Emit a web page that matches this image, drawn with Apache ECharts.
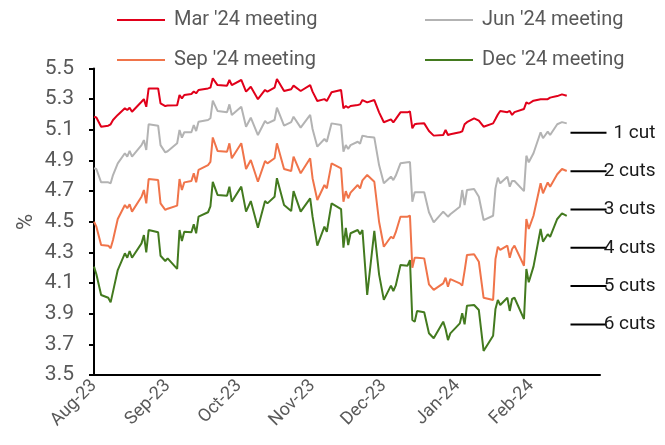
<!DOCTYPE html>
<html>
<head>
<meta charset="utf-8">
<script src="https://cdn.jsdelivr.net/npm/echarts@6/dist/echarts.min.js"></script>
<style>
  html, body { margin: 0; padding: 0; background: #fff; }
  #chartArea { width: 665px; height: 445px; }
</style>
</head>
<body>
<div id="chartArea"></div>
<script>
var dates = [
    '2023-08-01','2023-08-02','2023-08-04','2023-08-07','2023-08-08','2023-08-09','2023-08-11','2023-08-14','2023-08-15','2023-08-16',
    '2023-08-17','2023-08-21','2023-08-22','2023-08-23','2023-08-24','2023-08-28','2023-08-29','2023-08-31','2023-09-01','2023-09-05',
    '2023-09-06','2023-09-07','2023-09-08','2023-09-11','2023-09-12','2023-09-13','2023-09-14','2023-09-18','2023-09-19','2023-09-20',
    '2023-09-22','2023-09-26','2023-09-27','2023-09-28','2023-10-02','2023-10-04','2023-10-06','2023-10-09','2023-10-12','2023-10-13',
    '2023-10-16','2023-10-17','2023-10-20','2023-10-23','2023-10-24','2023-10-27','2023-10-31','2023-11-01','2023-11-03','2023-11-06',
    '2023-11-07','2023-11-09','2023-11-13','2023-11-14','2023-11-15','2023-11-16','2023-11-17','2023-11-20','2023-11-21','2023-11-22',
    '2023-11-24','2023-11-27','2023-11-29','2023-12-01','2023-12-04','2023-12-05','2023-12-06','2023-12-08','2023-12-11','2023-12-12',
    '2023-12-13','2023-12-14','2023-12-15','2023-12-18','2023-12-20','2023-12-22','2023-12-26','2023-12-27','2023-12-28','2023-12-29',
    '2024-01-02','2024-01-03','2024-01-04','2024-01-05','2024-01-08','2024-01-10','2024-01-12','2024-01-16','2024-01-17','2024-01-18',
    '2024-01-19','2024-01-22','2024-01-23','2024-01-24','2024-01-25','2024-01-29','2024-01-30','2024-01-31','2024-02-02','2024-02-05',
    '2024-02-06','2024-02-08','2024-02-09','2024-02-12','2024-02-14','2024-02-16'
];

var mar24 = [
    5.185,5.18,5.12,5.127,5.136,5.164,5.197,5.24,5.229,5.244,
    5.218,5.283,5.30,5.25,5.37,5.37,5.273,5.255,5.258,5.26,
    5.327,5.305,5.327,5.334,5.35,5.338,5.36,5.37,5.375,5.436,
    5.392,5.388,5.425,5.392,5.425,5.349,5.381,5.30,5.36,5.349,
    5.375,5.431,5.353,5.365,5.388,5.353,5.392,5.349,5.288,5.30,
    5.288,5.345,5.36,5.24,5.255,5.244,5.255,5.262,5.266,5.294,
    5.279,5.294,5.214,5.149,5.168,5.149,5.17,5.214,5.214,5.22,
    5.11,5.136,5.14,5.142,5.092,5.062,5.066,5.099,5.066,5.071,
    5.084,5.09,5.136,5.15,5.175,5.16,5.12,5.142,5.17,5.20,
    5.223,5.215,5.223,5.197,5.215,5.236,5.279,5.27,5.29,5.30,
    5.30,5.30,5.31,5.32,5.331,5.322
];
var jun24 = [
    4.849,4.844,4.757,4.757,4.751,4.805,4.881,4.947,4.925,4.962,
    4.925,5.0,5.033,4.968,5.136,5.127,5.0,4.953,4.96,5.012,
    5.099,5.049,5.084,5.084,5.131,5.092,5.153,5.164,5.175,5.29,
    5.223,5.214,5.266,5.197,5.25,5.12,5.179,5.066,5.157,5.142,
    5.164,5.244,5.127,5.15,5.185,5.114,5.197,5.105,4.99,5.04,
    5.022,5.142,5.131,4.957,5.0,4.975,5.0,5.022,5.01,5.062,
    5.055,5.049,4.87,4.751,4.794,4.772,4.80,4.881,4.888,4.89,
    4.631,4.692,4.692,4.692,4.562,4.496,4.566,4.55,4.533,4.549,
    4.598,4.707,4.609,4.707,4.714,4.663,4.511,4.539,4.718,4.788,
    4.751,4.794,4.729,4.766,4.766,4.70,4.931,4.888,4.947,5.084,
    5.045,5.088,5.066,5.136,5.15,5.142
];
var sep24 = [
    4.50,4.468,4.348,4.344,4.327,4.381,4.518,4.609,4.588,4.614,
    4.566,4.663,4.707,4.62,4.779,4.772,4.62,4.577,4.585,4.605,
    4.779,4.707,4.757,4.766,4.816,4.757,4.838,4.870,4.89,5.05,
    4.962,4.957,5.012,4.914,5.012,4.844,4.903,4.761,4.896,4.881,
    4.914,5.012,4.844,4.831,4.925,4.816,4.914,4.784,4.642,4.74,
    4.718,4.881,4.849,4.631,4.70,4.653,4.69,4.74,4.718,4.77,
    4.805,4.761,4.50,4.337,4.402,4.392,4.43,4.533,4.533,4.54,
    4.20,4.265,4.265,4.261,4.092,4.055,4.098,4.135,4.076,4.126,
    4.098,4.083,4.18,4.283,4.288,4.239,4.004,3.99,4.257,4.337,
    4.316,4.344,4.265,4.322,4.344,4.213,4.518,4.453,4.539,4.751,
    4.686,4.757,4.729,4.81,4.844,4.831
];
var dec24 = [
    4.207,4.157,4.022,4.004,3.974,4.044,4.185,4.294,4.265,4.309,
    4.265,4.359,4.413,4.30,4.446,4.431,4.278,4.244,4.261,4.192,
    4.446,4.374,4.435,4.431,4.483,4.425,4.533,4.562,4.60,4.76,
    4.675,4.670,4.729,4.631,4.729,4.566,4.635,4.461,4.635,4.62,
    4.663,4.784,4.609,4.57,4.70,4.566,4.653,4.533,4.344,4.468,
    4.435,4.62,4.583,4.331,4.46,4.348,4.425,4.446,4.418,4.446,
    4.022,4.44,4.157,3.99,4.083,4.048,4.083,4.218,4.213,4.25,
    3.859,3.848,3.918,3.909,3.772,3.74,3.848,3.80,3.728,3.772,
    3.837,3.903,3.831,3.952,3.957,3.924,3.657,3.756,3.931,3.99,
    3.957,4.004,3.918,3.996,4.004,3.865,4.192,4.105,4.207,4.453,
    4.37,4.418,4.402,4.518,4.555,4.539
];

var seriesNames = ["Mar '24 meeting", "Jun '24 meeting", "Sep '24 meeting", "Dec '24 meeting"];
var seriesColors = ['#e1001a', '#b3b3b3', '#f0744a', '#437a1f'];
var seriesValues = [mar24, jun24, sep24, dec24];

var cutLevels = [5.08, 4.83, 4.58, 4.33, 4.08, 3.83];
var cutLabels = ['1 cut', '2 cuts', '3 cuts', '4 cuts', '5 cuts', '6 cuts'];
var cutStart = '2024-02-18';

var axisStart = '2023-08-01';
var axisEnd = '2024-03-01';
var monthNames = ['Jan','Feb','Mar','Apr','May','Jun','Jul','Aug','Sep','Oct','Nov','Dec'];
var FONT = 'Roboto';

var myChart = echarts.init(document.getElementById('chartArea'));

function pairs(vals) {
    return vals.map(function(v, i) { return [dates[i], v]; });
}

var legendPos = [[117, 10], [425, 10], [117, 50], [425, 50]];
var endTime = echarts.time.parse(axisEnd).getTime();

var option = {
    animation: false,
    backgroundColor: '#fff',
    legend: seriesNames.map(function(name, i) {
        return {
            data: [name],
            left: legendPos[i][0],
            top: legendPos[i][1],
            padding: 0,
            icon: 'rect',
            itemWidth: 48,
            itemHeight: 2,
            textStyle: { color: '#595959', fontSize: 20, fontFamily: FONT, padding: [0, 0, 0, 4] }
        };
    }),
    grid: { left: 94, right: 65, top: 68.5, bottom: 70 },
    xAxis: {
        type: 'time',
        min: axisStart,
        max: axisEnd,
        minInterval: 28 * 86400000,
        maxInterval: 31 * 86400000,
        splitNumber: 7,
        axisLine: { lineStyle: { color: '#000', width: 2 } },
        axisTick: { show: false },
        splitLine: { show: false },
        axisLabel: {
            rotate: 45,
            margin: 8,
            color: '#595959',
            fontSize: 18,
            fontFamily: FONT,
            formatter: function(value) {
                if (value >= endTime) return '';
                var d = new Date(value);
                return monthNames[d.getMonth()] + '-' + String(d.getFullYear()).slice(2);
            }
        }
    },
    yAxis: {
        type: 'value',
        min: 3.5,
        max: 5.5,
        interval: 0.2,
        axisLine: { show: true, lineStyle: { color: '#000', width: 2 } },
        axisTick: { show: true, length: 5, lineStyle: { color: '#000', width: 2 } },
        splitLine: { show: false },
        axisLabel: {
            margin: 20,
            color: '#595959',
            fontSize: 21,
            fontFamily: FONT,
            formatter: function(v) { return v.toFixed(1); }
        }
    },
    series: seriesNames.map(function(name, i) {
        return {
            name: name,
            type: 'line',
            data: pairs(seriesValues[i]),
            symbol: 'none',
            color: seriesColors[i],
            lineStyle: { width: 2, color: seriesColors[i] }
        };
    })
};

myChart.setOption(option);

// y-axis unit and cut markers on the right
var marks = [{
    type: 'text',
    x: 26,
    y: 222,
    rotation: Math.PI / 2,
    style: {
        text: '%',
        align: 'center',
        verticalAlign: 'middle',
        fill: '#595959',
        fontSize: 22,
        fontFamily: FONT
    }
}];
cutLevels.forEach(function(level, i) {
    var p = myChart.convertToPixel({ xAxisIndex: 0, yAxisIndex: 0 }, [cutStart, level]);
    marks.push({
        type: 'line',
        shape: { x1: p[0] - 1, y1: p[1], x2: p[0] + 35, y2: p[1] },
        style: { stroke: '#000', lineWidth: 2 }
    });
    marks.push({
        type: 'text',
        x: p[0] + 84,
        y: p[1],
        style: {
            text: cutLabels[i],
            align: 'right',
            verticalAlign: 'middle',
            fill: '#1a1a1a',
            fontSize: 19,
            fontFamily: FONT
        }
    });
});
myChart.setOption({ graphic: marks });
</script>
</body>
</html>
